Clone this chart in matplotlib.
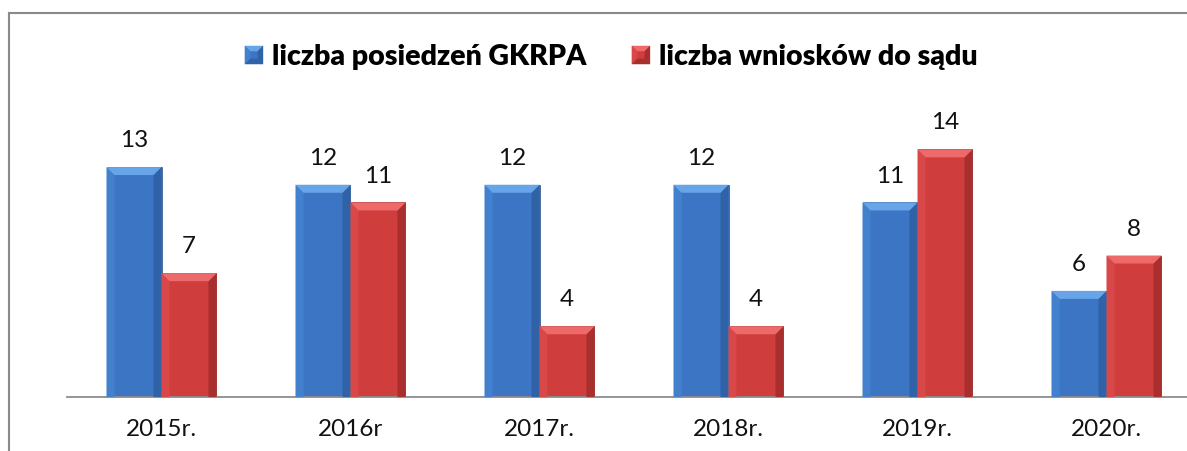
import numpy as np
import matplotlib
matplotlib.use('Agg')
import matplotlib.pyplot as plt
from matplotlib.patches import Polygon, Rectangle
from matplotlib.legend_handler import HandlerBase
from matplotlib.lines import Line2D

plt.rcParams['font.family'] = ['Lato', 'DejaVu Sans']

# ------------------- data -------------------#
years = ['2015r.', '2016r', '2017r.', '2018r.', '2019r.', '2020r.']
posiedzenia = [13, 12, 12, 12, 11, 6]
wnioski = [7, 11, 4, 4, 14, 8]
series_names = ['liczba posiedzeń GKRPA', 'liczba wniosków do sądu']

# body, top facet, left facet, right facet
BLUE = ('#3c75c3', '#68a4e8', '#4381cf', '#3062a8')
RED = ('#cf3d3d', '#ee6a6a', '#d84848', '#a92f2f')

W, H, DPI = 1187, 451, 100
fig = plt.figure(figsize=(W / DPI, H / DPI), dpi=DPI)

# plot area (pixels): x from 67 to 1201, baseline at y=397
left_px, right_px, base_px, top_px = 67, 1201, 397, 114
ax = fig.add_axes([left_px / W, (H - base_px) / H,
                   (right_px - left_px) / W, (base_px - top_px) / H])
YMAX = 16
ax.set_xlim(-0.5, len(years) - 0.5)
ax.set_ylim(0, YMAX)

x = np.arange(len(years))
bw = 0.291
bars1 = ax.bar(x - bw / 2, posiedzenia, bw, color=BLUE[0], zorder=2,
               edgecolor='#2a4f85', linewidth=0.5)
bars2 = ax.bar(x + bw / 2, wnioski, bw, color=RED[0], zorder=2,
               edgecolor='#7f2020', linewidth=0.5)

# data units per pixel, for the bevel
dx_px = len(years) / (right_px - left_px)
dy_px = YMAX / (base_px - top_px)
bev = 8


def bevel(rect, cols):
    x0, y0 = rect.get_x(), rect.get_y()
    x1, y1 = x0 + rect.get_width(), y0 + rect.get_height()
    dx, dy = bev * dx_px, bev * dy_px
    top = [(x0, y1), (x1, y1), (x1 - dx, y1 - dy), (x0 + dx, y1 - dy)]
    lft = [(x0, y0), (x0, y1), (x0 + dx, y1 - dy), (x0 + dx, y0)]
    rgt = [(x1, y0), (x1, y1), (x1 - dx, y1 - dy), (x1 - dx, y0)]
    ax.add_patch(Polygon(lft, closed=True, color=cols[2], lw=0, zorder=3))
    ax.add_patch(Polygon(rgt, closed=True, color=cols[3], lw=0, zorder=3))
    ax.add_patch(Polygon(top, closed=True, color=cols[1], lw=0, zorder=3))


for r in bars1:
    bevel(r, BLUE)
for r in bars2:
    bevel(r, RED)

for bars in (bars1, bars2):
    for r in bars:
        ax.annotate(f'{int(r.get_height())}',
                    (r.get_x() + r.get_width() / 2, r.get_height()),
                    xytext=(0, 19), textcoords='offset points',
                    ha='center', va='center', fontsize=17.5, color='#111111')

ax.set_xticks(x)
ax.set_xticklabels(years, fontsize=17.5, color='#111111')
ax.tick_params(axis='x', length=0, pad=16)
ax.set_yticks([])
for s in ('left', 'right', 'top'):
    ax.spines[s].set_visible(False)
ax.spines['bottom'].set_color('#8c8c8c')
ax.spines['bottom'].set_linewidth(1.3)
ax.patch.set_alpha(0)


# legend with beveled squares
class BevelHandler(HandlerBase):
    def __init__(self, cols):
        super().__init__()
        self.cols = cols

    def create_artists(self, legend, orig_handle, xdescent, ydescent,
                       width, height, fontsize, trans):
        c = self.cols
        s = min(width, height)
        x0, y0 = -xdescent + (width - s) / 2, -ydescent + (height - s) / 2
        b = s * 0.3
        arts = [Rectangle((x0, y0), s, s, color=c[0], lw=0)]
        pts = {
            1: [(x0, y0 + s), (x0 + s, y0 + s), (x0 + s - b, y0 + s - b), (x0 + b, y0 + s - b)],
            2: [(x0, y0), (x0, y0 + s), (x0 + b, y0 + s - b), (x0 + b, y0 + b)],
            3: [(x0 + s, y0), (x0 + s, y0 + s), (x0 + s - b, y0 + s - b), (x0 + s - b, y0 + b)],
        }
        for k, p in pts.items():
            arts.append(Polygon(p, closed=True, color=c[k], lw=0))
        arts.append(Polygon([(x0, y0), (x0 + s, y0), (x0 + s - b, y0 + b), (x0 + b, y0 + b)],
                            closed=True, color=c[3], lw=0))
        for a in arts:
            a.set_transform(trans)
        return arts


h1, h2 = Rectangle((0, 0), 1, 1), Rectangle((0, 0), 1, 1)
fig.legend([h1, h2], series_names, loc='center',
           bbox_to_anchor=(611 / W, 1 - 57 / H), ncol=2, frameon=False,
           prop={'weight': 'heavy', 'size': 20.5},
           handler_map={h1: BevelHandler(BLUE), h2: BevelHandler(RED)},
           handlelength=0.65, handleheight=0.65, handletextpad=0.3,
           columnspacing=1.6)

# chart frame (only left and top edges are visible in the crop)
fig.add_artist(Line2D([8.5 / W, 8.5 / W], [0, 1 - 12.5 / H], color='#8a8a8a', lw=1.5))
fig.add_artist(Line2D([8.5 / W, 1], [1 - 12.5 / H, 1 - 12.5 / H], color='#8a8a8a', lw=1.5))

fig.savefig('out.png', dpi=DPI)
plt.close()
